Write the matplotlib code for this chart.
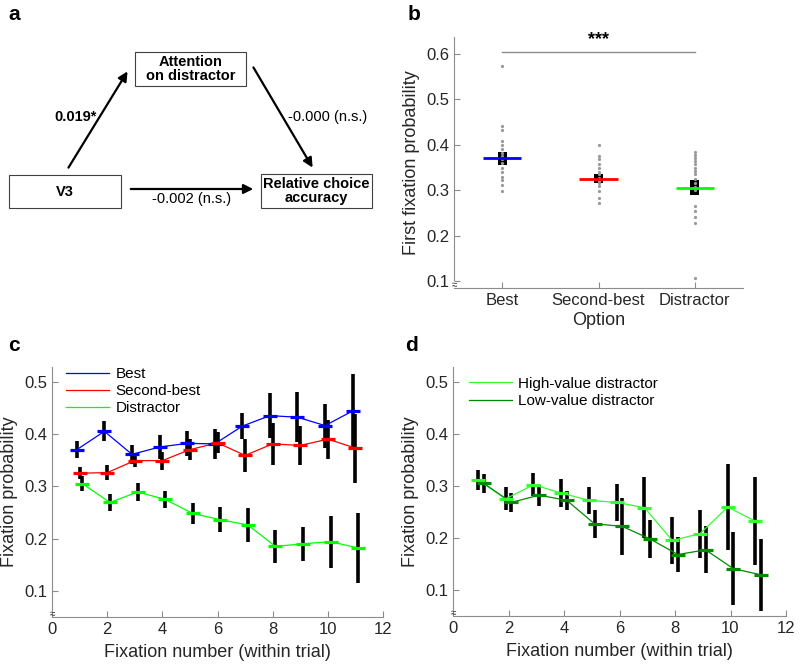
import numpy as np
import matplotlib.pyplot as plt
from matplotlib.patches import Rectangle

plt.rcParams['font.family'] = ['Liberation Sans', 'DejaVu Sans']

# ---- panel b data ----
options = ["Best", "Second-best", "Distractor"]
first_fix_mean = [0.370, 0.325, 0.305]
box_lo = [0.355, 0.315, 0.290]
box_hi = [0.385, 0.336, 0.322]
mean_colors = ["#0000ff", "#ff0000", "#00ff00"]
best_pts = [0.574, 0.442, 0.433, 0.409, 0.400, 0.390, 0.381, 0.375, 0.368, 0.359,
            0.350, 0.341, 0.330, 0.322, 0.311, 0.298]
second_pts = [0.400, 0.376, 0.368, 0.357, 0.350, 0.341, 0.335, 0.327, 0.320,
              0.315, 0.310, 0.298, 0.282, 0.273]
distr_pts = [0.385, 0.378, 0.370, 0.364, 0.357, 0.350, 0.343, 0.335, 0.325,
             0.315, 0.308, 0.300, 0.266, 0.254, 0.242, 0.228, 0.106]

# ---- panel c data ----
fix_num = np.arange(1, 12)
best_mean = [0.370, 0.405, 0.361, 0.375, 0.382, 0.381, 0.415, 0.435, 0.432, 0.416, 0.444]
best_sem = [0.016, 0.019, 0.018, 0.023, 0.024, 0.028, 0.025, 0.043, 0.048, 0.042, 0.070]
second_mean = [0.325, 0.326, 0.349, 0.349, 0.370, 0.383, 0.359, 0.381, 0.378, 0.390, 0.373]
second_sem = [0.011, 0.014, 0.013, 0.017, 0.020, 0.020, 0.031, 0.040, 0.038, 0.037, 0.066]
distr_mean = [0.305, 0.269, 0.289, 0.275, 0.248, 0.236, 0.226, 0.185, 0.190, 0.194, 0.182]
distr_sem = [0.014, 0.017, 0.018, 0.016, 0.020, 0.024, 0.032, 0.032, 0.033, 0.050, 0.067]

# ---- panel d data ----
high_mean = [0.311, 0.275, 0.302, 0.286, 0.272, 0.268, 0.258, 0.195, 0.208, 0.259, 0.232]
high_sem = [0.019, 0.022, 0.022, 0.027, 0.026, 0.036, 0.059, 0.046, 0.046, 0.083, 0.085]
low_mean = [0.305, 0.268, 0.282, 0.272, 0.227, 0.222, 0.198, 0.168, 0.177, 0.141, 0.129]
low_sem = [0.018, 0.018, 0.020, 0.018, 0.027, 0.054, 0.036, 0.033, 0.045, 0.070, 0.069]

AXC = "#8c8c8c"
TXT = "#262626"

fig = plt.figure(figsize=(8, 6.68), dpi=100)


def style_axes(ax, ylo):
    for s in ["top", "right"]:
        ax.spines[s].set_visible(False)
    for s in ["left", "bottom"]:
        ax.spines[s].set_color(AXC)
        ax.spines[s].set_linewidth(0.8)
    top = ax.get_ylim()[1]
    ax.spines["left"].set_bounds(ylo + (top - ylo) * 0.03, top)
    ax.tick_params(direction="in", colors=AXC, labelcolor=TXT, labelsize=12, length=4)
    ax.text(0.0, 0.012, "≈", transform=ax.transAxes, ha="center", va="center",
            fontsize=7, color=TXT)


def series(ax, x, mean, sem, color, label):
    ax.errorbar(x, mean, yerr=sem, fmt="none", ecolor="black", elinewidth=2.6, capsize=0, zorder=2)
    ax.plot(x, mean, color=color, lw=0.9, zorder=3, label=label)
    ax.plot(x, mean, ls="none", marker="_", ms=10, mew=2.3, color=color, zorder=4)


# ---- panel a: mediation diagram ----
ax_a = fig.add_axes([0, 1 - 230 / 668, 0.5, 230 / 668])
ax_a.set_xlim(0, 400)
ax_a.set_ylim(230, 0)
ax_a.axis("off")
boxes = [(135, 52, 111, 34, "Attention\non distractor"),
         (9, 175, 112, 33, "V3"),
         (261, 174, 111, 34, "Relative choice\naccuracy")]
for bx, by, bw, bh, label in boxes:
    ax_a.add_patch(Rectangle((bx, by), bw, bh, fill=False, ec="#404040", lw=0.8))
    ax_a.text(bx + bw / 2, by + bh / 2, label, ha="center", va="center",
              fontsize=10.5, fontweight="bold", linespacing=1.05)
arr = dict(arrowstyle="-|>", lw=1.6, color="black", mutation_scale=14)
ax_a.annotate("", xy=(129, 69), xytext=(67, 170), arrowprops=arr)
ax_a.annotate("", xy=(314, 170), xytext=(252, 65), arrowprops=arr)
ax_a.annotate("", xy=(256, 189), xytext=(128, 189), arrowprops=arr)
ax_a.text(76, 117, "0.019*", ha="center", va="center", fontsize=10.5, fontweight="bold")
ax_a.text(328, 117, "-0.000 (n.s.)", ha="center", va="center", fontsize=10.5)
ax_a.text(192, 199, "-0.002 (n.s.)", ha="center", va="center", fontsize=10.5)

# ---- panel b ----
ax_b = fig.add_axes([454 / 800, (668 - 288) / 668, 289 / 800, 251 / 668])
ax_b.set_xlim(0.5, 3.5)
ax_b.set_ylim(0.085, 0.637)
for i, pts in enumerate([best_pts, second_pts, distr_pts]):
    ax_b.plot([i + 1] * len(pts), pts, ls="none", marker="o", ms=1.3, color="#999999", zorder=3)
xb = np.arange(1, 4)
ax_b.bar(xb, np.array(box_hi) - np.array(box_lo), bottom=box_lo, width=0.09,
         color="black", zorder=2)
ax_b.hlines(first_fix_mean, xb - 0.2, xb + 0.2, colors=mean_colors, lw=2, zorder=4)
ax_b.plot([1, 3], [0.603, 0.603], color="#8c8c8c", lw=1)
ax_b.text(2, 0.612, "***", ha="center", va="bottom", fontsize=13, fontweight="bold")
ax_b.set_xticks(xb)
ax_b.set_xticklabels(options)
ax_b.set_yticks([0.1, 0.2, 0.3, 0.4, 0.5, 0.6])
ax_b.set_xlabel("Option", fontsize=13, color=TXT, labelpad=3)
ax_b.set_ylabel("First fixation probability", fontsize=13, color=TXT)
style_axes(ax_b, 0.085)

leg_kw = dict(loc="upper left", frameon=False, fontsize=11, handlelength=2.8,
              handletextpad=0.4, labelspacing=0.2, borderaxespad=0.0)

# ---- panel c ----
ax_c = fig.add_axes([52 / 800, (668 - 617) / 668, 331 / 800, 250 / 668])
ax_c.set_xlim(0, 12)
ax_c.set_ylim(0.05, 0.528)
series(ax_c, fix_num - 0.1, best_mean, best_sem, "#0000ff", "Best")
series(ax_c, fix_num, second_mean, second_sem, "#ff0000", "Second-best")
series(ax_c, fix_num + 0.1, distr_mean, distr_sem, "#00ff00", "Distractor")
ax_c.set_xticks(range(0, 13, 2))
ax_c.set_yticks([0.1, 0.2, 0.3, 0.4, 0.5])
ax_c.set_xlabel("Fixation number (within trial)", fontsize=13, color=TXT, labelpad=5)
ax_c.set_ylabel("Fixation probability", fontsize=13, color=TXT)
ax_c.legend(bbox_to_anchor=(0.025, 1.025), **leg_kw)
style_axes(ax_c, 0.05)

# ---- panel d ----
ax_d = fig.add_axes([453 / 800, (668 - 616) / 668, 333 / 800, 249 / 668])
ax_d.set_xlim(0, 12)
ax_d.set_ylim(0.05, 0.528)
series(ax_d, fix_num - 0.1, high_mean, high_sem, "#33ff33", "High-value distractor")
series(ax_d, fix_num + 0.1, low_mean, low_sem, "#008c00", "Low-value distractor")
ax_d.set_xticks(range(0, 13, 2))
ax_d.set_yticks([0.1, 0.2, 0.3, 0.4, 0.5])
ax_d.set_xlabel("Fixation number (within trial)", fontsize=13, color=TXT, labelpad=5)
ax_d.set_ylabel("Fixation probability", fontsize=13, color=TXT)
ax_d.legend(bbox_to_anchor=(0.03, 0.985), **leg_kw)
style_axes(ax_d, 0.05)

# panel letters
for lx, ly, letter in [(8, 14, "a"), (408, 14, "b"), (8, 345, "c"), (405, 345, "d")]:
    fig.text(lx / 800, 1 - ly / 668, letter, fontsize=15, fontweight="bold", va="center")

fig.savefig("out.png", dpi=100)
